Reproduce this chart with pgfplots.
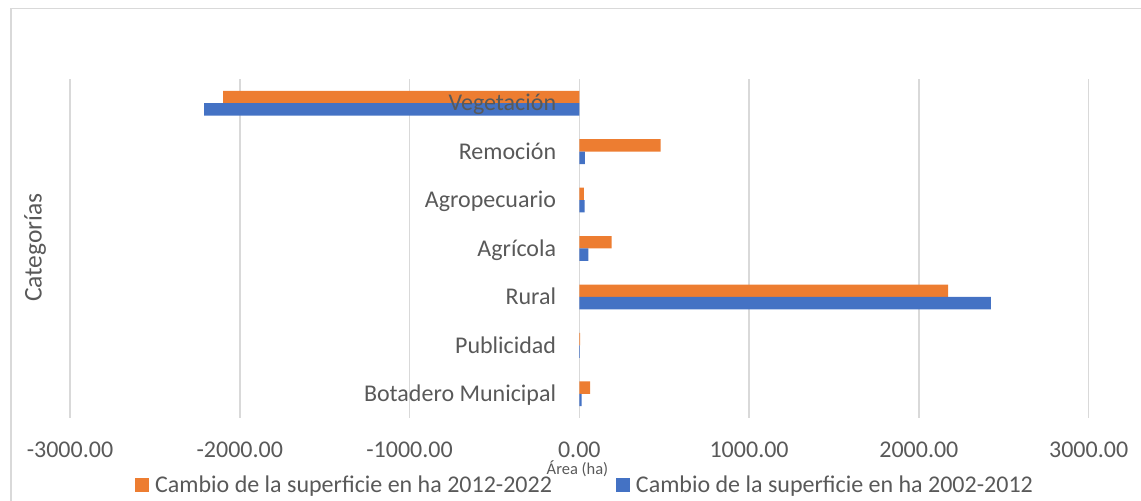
\documentclass[border=0pt]{standalone}
\usepackage{pgfplots}
\pgfplotsset{compat=1.18}
\usepackage{fontspec}
\setmainfont{Carlito}
\definecolor{cOrange}{HTML}{ED7D31}
\definecolor{cBlue}{HTML}{4472C4}
\definecolor{cGrid}{HTML}{D9D9D9}
\definecolor{cText}{HTML}{595959}
\pgfplotsset{
  base/.style={
    at={(70bp,83bp)}, anchor=south west,
    scale only axis, width=1018.7bp, height=339bp,
    xmin=-3000, xmax=3000, ymin=-0.5, ymax=6.5,
    major tick length=0pt,
    axis line style={draw=none},
    tick label style={font=\fontsize{24bp}{28bp}\selectfont, text=cText},
  },
}

\begin{document}
\begin{tikzpicture}
\useasboundingbox (0,0) rectangle (1141bp,501bp);
\draw[cGrid, line width=1.2bp] (11bp,0) -- (11bp,492.5bp) -- (1141bp,492.5bp);
\begin{axis}[
  base,
  xtick={-3000,-2000,-1000,0,1000,2000,3000},
  xticklabels={-3000.00,-2000.00,-1000.00,0.00,1000.00,2000.00,3000.00},
  ytick=\empty,
  xmajorgrids, ymajorgrids=false,
  grid style={cGrid, line width=1.5bp},
  xticklabel style={anchor=base, inner sep=0pt, yshift=-39.3bp},
  xlabel={Área (ha)},
  xlabel style={at={(axis description cs:0.4982,-0.1652)}, anchor=base, inner sep=0pt,
    font=\fontsize{16.5bp}{19bp}\selectfont, text=cText},
  ylabel={Categorías},
  ylabel style={at={(axis description cs:-0.0278,0.503)}, anchor=base, inner sep=0pt, rotate=0,
    font=\fontsize{25.5bp}{30bp}\selectfont, text=cText},
  xbar, bar width=12.4bp,
  legend columns=2,
  legend image code/.code={\fill[#1] (0bp,-7bp) rectangle (14bp,7bp);},
  legend style={at={(axis description cs:0.5046,-0.197)}, anchor=center, draw=none,
    fill=none, font=\fontsize{24bp}{28bp}\selectfont, text=cText,
    nodes={inner sep=0pt, text height=15.5bp, text depth=0bp},
    /tikz/every odd column/.style={column sep=6bp},
    /tikz/every even column/.style={column sep=64bp}},
]
\addplot[fill=cOrange, draw=none, bar shift=6.2bp] coordinates {
  (64,0) (4,1) (2172,2) (190,3) (27,4) (479,5) (-2098,6)};
\addlegendentry{Cambio de la superficie en ha 2012-2022}
\addplot[fill=cBlue, draw=none, bar shift=-6.2bp] coordinates {
  (14,0) (3,1) (2424,2) (53,3) (31,4) (33,5) (-2210,6)};
\addlegendentry{Cambio de la superficie en ha 2002-2012}
\end{axis}
\begin{axis}[
  base,
  xtick=\empty,
  ytick={0,1,2,3,4,5,6},
  yticklabels={Botadero Municipal,Publicidad,Rural,Agrícola,Agropecuario,Remoción,Vegetación},
  yticklabel style={anchor=base east, inner sep=0pt, xshift=486.3bp, yshift=-7.7bp},
]
\addplot[draw=none, mark=none] coordinates {(0,0)};
\end{axis}
\end{tikzpicture}
\end{document}
